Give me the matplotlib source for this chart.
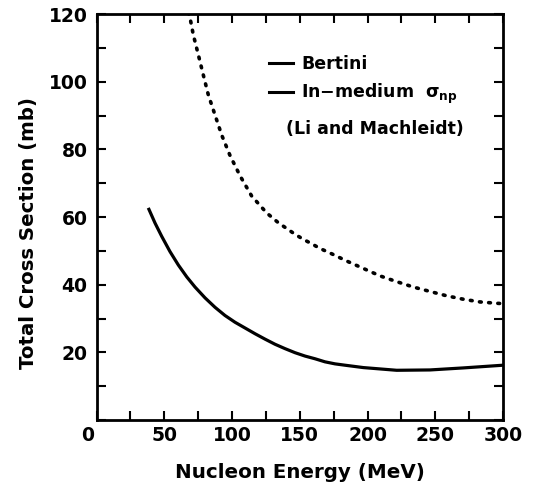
import numpy as np
import matplotlib
matplotlib.use("Agg")
import matplotlib.pyplot as plt
from matplotlib.lines import Line2D
from matplotlib.ticker import MultipleLocator
import matplotlib.transforms as mtransforms

# total cross section (mb) vs nucleon energy (MeV)
bertini_E = [67.7, 69.0, 71.4, 75.1, 78.8, 82.5, 87.5, 92.4, 98.5, 105.9, 114.5,
             125.6, 134.2, 146.5, 152.6, 158.8, 164.9, 171.1, 184.6, 196.9, 209.2,
             221.5, 233.8, 246.1, 258.5, 270.7, 283.0, 295.4, 300.0]
bertini_sigma = [120.5, 118.9, 113.9, 108.0, 102.0, 96.1, 90.1, 84.2, 78.2, 72.2, 66.2,
                 61.2, 58.3, 54.9, 53.4, 52.1, 50.7, 49.6, 47.0, 44.8, 42.6,
                 40.9, 39.3, 38.0, 36.7, 35.7, 34.9, 34.5, 34.4]

medium_E = [38.2, 43.2, 48.1, 54.2, 60.4, 66.6, 72.7, 80.1, 87.5, 94.8, 102.2,
            109.6, 117.0, 124.4, 131.7, 139.1, 146.5, 153.9, 161.3, 168.6, 176.0,
            183.4, 196.9, 221.5, 246.1, 270.7, 300.0]
medium_sigma = [62.7, 58.2, 54.3, 49.8, 45.8, 42.3, 39.3, 36.1, 33.3, 30.9, 28.9,
                27.2, 25.5, 23.9, 22.4, 21.1, 19.9, 18.9, 18.1, 17.2, 16.6,
                16.2, 15.5, 14.7, 14.8, 15.4, 16.2]

x_ticks = [0, 50, 100, 150, 200, 250, 300]
y_ticks = [20, 40, 60, 80, 100, 120]

plt.rcParams["font.family"] = "DejaVu Sans"
plt.rcParams["font.weight"] = "bold"
plt.rcParams["axes.labelweight"] = "bold"
plt.rcParams["mathtext.fontset"] = "dejavusans"

fig = plt.figure(figsize=(5.38, 4.88), dpi=100)
ax = fig.add_axes([0.1794, 0.1393, 0.7556, 0.832])

ax.plot(bertini_E, bertini_sigma, color="black", lw=2.6,
        linestyle=(0, (0.5, 2.05)), dash_capstyle="round")
ax.plot(medium_E, medium_sigma, color="black", lw=2.3, solid_capstyle="butt")

ax.set_xlim(0, 300)
ax.set_ylim(0, 120)
ax.set_xticks(x_ticks)
ax.set_yticks(y_ticks)
ax.xaxis.set_minor_locator(MultipleLocator(25))
ax.yaxis.set_minor_locator(MultipleLocator(10))
ax.tick_params(which="both", direction="in", top=True, right=True,
               length=6.5, width=1.5)
ax.tick_params(axis="x", which="major", labelsize=13.5, pad=4)
ax.tick_params(axis="y", which="major", labelsize=13.5, pad=6.5)
for s in ax.spines.values():
    s.set_linewidth(2.0)

# the zero label sits a little left of the origin
zero = ax.get_xticklabels()[0]
zero.set_transform(zero.get_transform() +
                   mtransforms.ScaledTranslation(-9 / 100, 0, fig.dpi_scale_trans))

ax.set_xlabel("Nucleon Energy (MeV)", fontsize=14.3)
ax.set_ylabel("Total Cross Section (mb)", fontsize=14.2)
ax.xaxis.set_label_coords(0.50, -0.105)
ax.yaxis.set_label_coords(-0.143, 0.46)

handles = [Line2D([], [], color="black", lw=2.2), Line2D([], [], color="black", lw=2.2)]
labels = ["Bertini", "In\u2212medium  $\\mathrm{\\sigma}_{\\mathbf{np}}$"]
ax.legend(handles, labels, loc="upper left", bbox_to_anchor=(0.425, 0.90),
          frameon=False, fontsize=12.5, handlelength=1.38, handletextpad=0.44,
          labelspacing=0.55, borderpad=0, borderaxespad=0)
ax.text(0.467, 0.717, "(Li and Machleidt)", transform=ax.transAxes,
        fontsize=12.5, ha="left", va="center")

fig.savefig("out.png", dpi=100)
